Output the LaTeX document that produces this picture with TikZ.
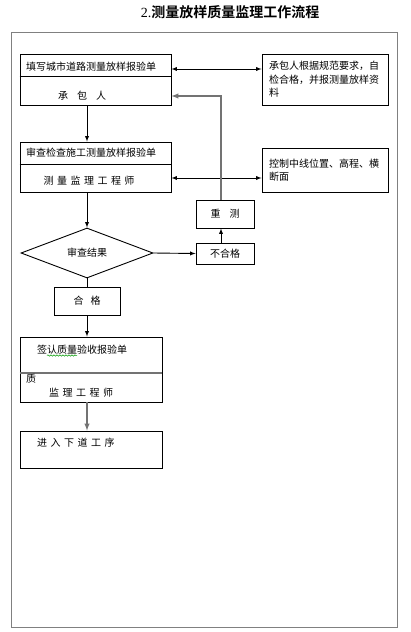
\documentclass[tikz,border=0pt]{standalone}
\usepackage{fontspec}
\setmainfont{Liberation Serif}
\newfontfamily\cjk{Noto Sans CJK SC}[BoldFont={Noto Sans CJK SC Bold}]
\usetikzlibrary{shapes,
	calc,
	positioning,
	arrows,
	decorations.pathmorphing}
\newcommand{\gp}{\hspace{3.5pt}}
\tikzset{
	box/.style={draw, line width=0.9pt, inner sep=0pt},
	note/.style={box, font=\cjk\fontsize{10}{13.5}\selectfont, align=left, inner xsep=7pt, text width=112pt},
	txt/.style={font=\cjk\fontsize{10}{12}\selectfont, inner sep=0pt},
	frame/.style={draw=gray, line width=1pt},
	link/.style={line width=0.9pt},
	grey link/.style={draw=gray!90!black, line width=1.4pt}
}

\begin{document}
\begin{tikzpicture}[x=1pt, y=-1pt, >=latex]
	\useasboundingbox (0,0) rectangle (410,632);
	\node[font=\fontsize{14}{14}\selectfont, inner sep=0pt] (title) at (230,12) {2.{\cjk\bfseries 测量放样质量监理工作流程}};
	\draw[frame] (11,32) rectangle (397,627);
	\coordinate (axis) at (87,0);
	\coordinate (loop) at (221,0);

	\node[box, minimum width=151pt, minimum height=51pt] (fill) at (95.5,79.5) {};
	\draw[link] (fill.west |- 0,76) -- (fill.east |- 0,76);
	\node[txt, anchor=west] (filltxt) at (26,67) {填写城市道路测量放样报验单};
	\node[txt] (contractor) at (82,96) {承\hspace{9pt}包\hspace{9pt}人};
	\node[note, minimum height=51pt] (selfcheck) at (325,79.5) {承包人根据规范要求，自\\检合格，并报测量放样资\\料};

	\node[box, minimum width=151pt, minimum height=50pt] (review) at (95.5,167) {};
	\draw[link] (review.west |- 0,164) -- (review.east |- 0,164);
	\node[txt, anchor=west] (reviewtxt) at (26,153) {审查检查施工测量放样报验单};
	\node[txt] (engineer) at (89,181) {测\gp 量\gp 监\gp 理\gp 工\gp 程\gp 师};
	\node[note, minimum height=44pt] (control) at (325,170) {控制中线位置、高程、横\\断面};

	\node[draw, diamond, line width=0.9pt, minimum width=132pt, minimum height=50pt, inner sep=0pt, font=\cjk\fontsize{10}{12}\selectfont] (result) at (87,253) {审查结果};
	\node[box, minimum width=58pt, minimum height=21pt, font=\cjk\fontsize{10}{12}\selectfont] (fail) at (225,253.5) {不合格};
	\node[box, minimum width=58pt, minimum height=28pt, font=\cjk\fontsize{10}{12}\selectfont] (redo) at (225,214) {重\hspace{9pt}测};
	\node[box, minimum width=66pt, minimum height=28pt, font=\cjk\fontsize{10}{12}\selectfont] (pass) at (87,301) {合\hspace{7pt}格};

	\node[box, minimum width=142pt, minimum height=65pt] (sign) at (91,369.5) {};
	\draw[grey link] (sign.west |- 0,373) -- (sign.east |- 0,373);
	\node[txt, anchor=west] (signtxt) at (37,350) {签认质量验收报验单};
	\draw[green!60!black, line width=0.5pt, decorate, decoration={snake, segment length=3pt, amplitude=0.7pt}] (47,355.5) -- (77,355.5);
	\node[txt, anchor=west] (stray) at (26,379) {质};
	\node[txt] (supervisor) at (81,393) {监\gp 理\gp 工\gp 程\gp 师};

	\node[box, minimum width=142pt, minimum height=37pt] (next) at (91,449.5) {};
	\node[txt, anchor=west] (nexttxt) at (37,443) {进\gp 入\gp 下\gp 道\gp 工\gp 序};

	\coordinate (top) at ($(fill.east)+(0,-10.5)$);
	\coordinate (mid) at ($(review.east)+(0,11)$);
	\draw[link, <->] (top) -- (top -| selfcheck.west);
	\draw[link, <->] (mid) -- (mid -| control.west);
	\draw[link, ->] (fill.south -| axis) -- (review.north -| axis);
	\draw[link, ->] (review.south -| axis) -- (result.north);
	\draw[link, ->] (result.east) -- (fail.west);
	\draw[link, ->] (fail.north -| loop) -- (redo.south -| loop);
	\draw[grey link, ->] (redo.north -| loop) -- (contractor -| loop) -- (contractor -| fill.east);
	\draw[link] (result.south) -- (pass.north);
	\draw[link, ->] (pass.south) -- (sign.north -| pass);
	\draw[grey link, ->] (sign.south -| pass) -- (next.north -| pass);
\end{tikzpicture}
\end{document}
